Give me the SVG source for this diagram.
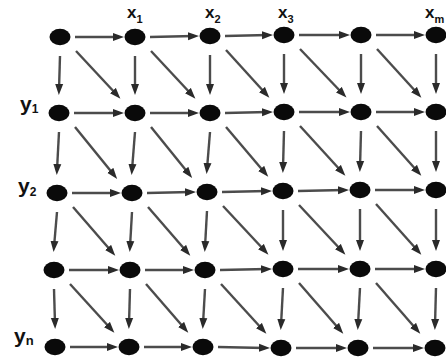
<svg xmlns="http://www.w3.org/2000/svg" width="446" height="363" viewBox="0 0 446 363">
<style>
.c line{stroke:#4c4c4c;stroke-width:2.4;fill:none;marker-end:url(#ah)}
.n{fill:#0a0a0a}
.lbl{font-family:"Liberation Sans",Arial,sans-serif;font-weight:bold;fill:#111}
</style>
<defs>
<marker id="ah" markerUnits="userSpaceOnUse" markerWidth="11" markerHeight="9" viewBox="0 0 11 9" refX="6" refY="4.5" orient="auto">
<path d="M0,0.5 L11,4.5 L0,8.5 Z" fill="#2a2a2a"/>
</marker>
</defs>
<rect width="446" height="363" fill="#fff"/>
<g id="connectors" class="c">
<line x1="75" y1="37" x2="119" y2="37"/>
<line x1="150" y1="37" x2="194" y2="36"/>
<line x1="225" y1="36" x2="268" y2="35"/>
<line x1="299" y1="35" x2="345" y2="35"/>
<line x1="376" y1="35" x2="420" y2="35"/>
<line x1="74" y1="113" x2="119" y2="113"/>
<line x1="150" y1="113" x2="194" y2="113"/>
<line x1="225" y1="113" x2="268" y2="112"/>
<line x1="299" y1="112" x2="345" y2="112"/>
<line x1="376" y1="112" x2="420" y2="112"/>
<line x1="72" y1="193" x2="116" y2="193"/>
<line x1="147" y1="193" x2="191" y2="192"/>
<line x1="222" y1="192" x2="267" y2="191"/>
<line x1="298" y1="191" x2="344" y2="190"/>
<line x1="375" y1="190" x2="420" y2="190"/>
<line x1="69" y1="270" x2="114" y2="270"/>
<line x1="145" y1="270" x2="189" y2="270"/>
<line x1="220" y1="270" x2="267" y2="269"/>
<line x1="298" y1="269" x2="344" y2="269"/>
<line x1="375" y1="269" x2="420" y2="269"/>
<line x1="70" y1="347" x2="113" y2="347"/>
<line x1="144" y1="347" x2="187" y2="347"/>
<line x1="218" y1="347" x2="265" y2="348"/>
<line x1="296" y1="348" x2="342" y2="348"/>
<line x1="373" y1="348" x2="419" y2="348"/>
<line x1="60" y1="56" x2="59" y2="90"/>
<line x1="59" y1="132" x2="57" y2="170"/>
<line x1="57" y1="212" x2="54" y2="247"/>
<line x1="54" y1="289" x2="55" y2="324"/>
<line x1="135" y1="56" x2="135" y2="90"/>
<line x1="135" y1="132" x2="132" y2="170"/>
<line x1="132" y1="212" x2="130" y2="247"/>
<line x1="130" y1="289" x2="129" y2="324"/>
<line x1="210" y1="55" x2="210" y2="90"/>
<line x1="210" y1="132" x2="207" y2="169"/>
<line x1="207" y1="211" x2="205" y2="247"/>
<line x1="205" y1="289" x2="203" y2="324"/>
<line x1="284" y1="54" x2="284" y2="89"/>
<line x1="284" y1="131" x2="283" y2="168"/>
<line x1="283" y1="210" x2="283" y2="246"/>
<line x1="283" y1="288" x2="281" y2="325"/>
<line x1="361" y1="54" x2="361" y2="89"/>
<line x1="361" y1="131" x2="360" y2="167"/>
<line x1="360" y1="209" x2="360" y2="246"/>
<line x1="360" y1="288" x2="358" y2="325"/>
<line x1="436" y1="54" x2="436" y2="89"/>
<line x1="436" y1="131" x2="436" y2="167"/>
<line x1="436" y1="209" x2="436" y2="246"/>
<line x1="436" y1="288" x2="435" y2="325"/>
<line x1="76" y1="51" x2="117" y2="95"/>
<line x1="151" y1="51" x2="192" y2="95"/>
<line x1="226" y1="50" x2="266" y2="94"/>
<line x1="300" y1="49" x2="343" y2="94"/>
<line x1="377" y1="49" x2="418" y2="94"/>
<line x1="75" y1="127" x2="114" y2="175"/>
<line x1="151" y1="127" x2="189" y2="174"/>
<line x1="226" y1="127" x2="265" y2="173"/>
<line x1="300" y1="126" x2="342" y2="172"/>
<line x1="377" y1="126" x2="418" y2="172"/>
<line x1="73" y1="207" x2="112" y2="252"/>
<line x1="148" y1="207" x2="187" y2="252"/>
<line x1="223" y1="206" x2="265" y2="251"/>
<line x1="299" y1="205" x2="342" y2="251"/>
<line x1="376" y1="204" x2="418" y2="251"/>
<line x1="70" y1="284" x2="111" y2="329"/>
<line x1="146" y1="284" x2="185" y2="329"/>
<line x1="221" y1="284" x2="263" y2="330"/>
<line x1="299" y1="283" x2="340" y2="330"/>
<line x1="376" y1="283" x2="417" y2="330"/>
</g>
<g id="node-0-0"><ellipse class="n" cx="60" cy="37" rx="10.5" ry="8.2"/></g>
<g id="node-0-1"><ellipse class="n" cx="135" cy="37" rx="10.5" ry="8.2"/></g>
<g id="node-0-2"><ellipse class="n" cx="210" cy="36" rx="10.5" ry="8.2"/></g>
<g id="node-0-3"><ellipse class="n" cx="284" cy="35" rx="10.5" ry="8.2"/></g>
<g id="node-0-4"><ellipse class="n" cx="361" cy="35" rx="10.5" ry="8.2"/></g>
<g id="node-0-5"><ellipse class="n" cx="436" cy="35" rx="10.5" ry="8.2"/></g>
<g id="node-1-0"><ellipse class="n" cx="59" cy="113" rx="10.5" ry="8.2"/></g>
<g id="node-1-1"><ellipse class="n" cx="135" cy="113" rx="10.5" ry="8.2"/></g>
<g id="node-1-2"><ellipse class="n" cx="210" cy="113" rx="10.5" ry="8.2"/></g>
<g id="node-1-3"><ellipse class="n" cx="284" cy="112" rx="10.5" ry="8.2"/></g>
<g id="node-1-4"><ellipse class="n" cx="361" cy="112" rx="10.5" ry="8.2"/></g>
<g id="node-1-5"><ellipse class="n" cx="436" cy="112" rx="10.5" ry="8.2"/></g>
<g id="node-2-0"><ellipse class="n" cx="57" cy="193" rx="10.5" ry="8.2"/></g>
<g id="node-2-1"><ellipse class="n" cx="132" cy="193" rx="10.5" ry="8.2"/></g>
<g id="node-2-2"><ellipse class="n" cx="207" cy="192" rx="10.5" ry="8.2"/></g>
<g id="node-2-3"><ellipse class="n" cx="283" cy="191" rx="10.5" ry="8.2"/></g>
<g id="node-2-4"><ellipse class="n" cx="360" cy="190" rx="10.5" ry="8.2"/></g>
<g id="node-2-5"><ellipse class="n" cx="436" cy="190" rx="10.5" ry="8.2"/></g>
<g id="node-3-0"><ellipse class="n" cx="54" cy="270" rx="10.5" ry="8.2"/></g>
<g id="node-3-1"><ellipse class="n" cx="130" cy="270" rx="10.5" ry="8.2"/></g>
<g id="node-3-2"><ellipse class="n" cx="205" cy="270" rx="10.5" ry="8.2"/></g>
<g id="node-3-3"><ellipse class="n" cx="283" cy="269" rx="10.5" ry="8.2"/></g>
<g id="node-3-4"><ellipse class="n" cx="360" cy="269" rx="10.5" ry="8.2"/></g>
<g id="node-3-5"><ellipse class="n" cx="436" cy="269" rx="10.5" ry="8.2"/></g>
<g id="node-4-0"><ellipse class="n" cx="55" cy="347" rx="10.5" ry="8.2"/></g>
<g id="node-4-1"><ellipse class="n" cx="129" cy="347" rx="10.5" ry="8.2"/></g>
<g id="node-4-2"><ellipse class="n" cx="203" cy="347" rx="10.5" ry="8.2"/></g>
<g id="node-4-3"><ellipse class="n" cx="281" cy="348" rx="10.5" ry="8.2"/></g>
<g id="node-4-4"><ellipse class="n" cx="358" cy="348" rx="10.5" ry="8.2"/></g>
<g id="node-4-5"><ellipse class="n" cx="435" cy="348" rx="10.5" ry="8.2"/></g>
<g id="labels">
<text class="lbl" x="127" y="18" font-size="17">x<tspan font-size="11" dy="5">1</tspan></text>
<text class="lbl" x="205" y="18" font-size="17">x<tspan font-size="11" dy="5">2</tspan></text>
<text class="lbl" x="278" y="18" font-size="17">x<tspan font-size="11" dy="5">3</tspan></text>
<text class="lbl" x="425" y="18" font-size="17">x<tspan font-size="11" dy="5">m</tspan></text>
<text class="lbl" x="20" y="111" font-size="21">y<tspan font-size="12" dy="2">1</tspan></text>
<text class="lbl" x="18" y="193" font-size="21">y<tspan font-size="12" dy="3">2</tspan></text>
<text class="lbl" x="14" y="343" font-size="21">y<tspan font-size="13" dy="2">n</tspan></text>
</g>
</svg>
